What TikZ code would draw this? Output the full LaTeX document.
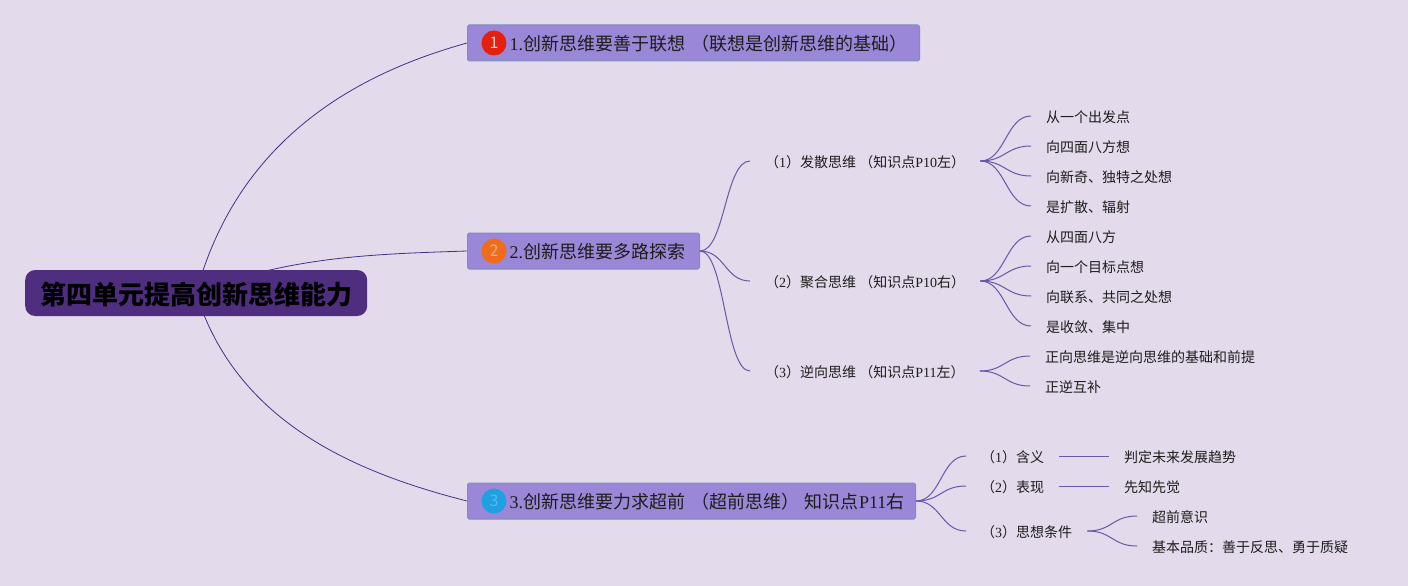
\documentclass[tikz,border=0pt]{standalone}
\usepackage{fontspec}
\usepackage{xcolor}
\usetikzlibrary{backgrounds}
\setmainfont{Noto Sans CJK SC}
\newfontfamily\latinfont{Liberation Serif}
\newcommand{\lat}[1]{{\latinfont #1}}
\definecolor{colorpage}  {RGB}{227,218,236}
\definecolor{colorroot}  {RGB}{79 ,46 ,128}
\definecolor{colorbranch}{RGB}{155,135,215}
\definecolor{colorborder}{RGB}{122,146,182}
\definecolor{colorline}  {RGB}{66 ,50 ,134}
\definecolor{colorsub}   {RGB}{105,88 ,168}
\definecolor{colortext}  {RGB}{29 ,29 ,27 }

\begin{document}
\begin{tikzpicture}[
    x=1pt, y=-1pt,
    base/.style={text=colortext,anchor=west,align=left},
    root/.style={base,fill=colorroot,text=black,rounded corners=10pt,inner sep=0pt,minimum height=46pt,
        text width=342pt,align=center,text height=26pt,text depth=2.6pt,font={\fontsize{26}{30}\selectfont\bfseries}},
    branch/.style={base,fill=colorbranch,draw=colorborder,line width=1pt,rounded corners=1.5pt,inner xsep=0pt,inner ysep=0pt,
        minimum height=36pt,text height=17pt,text depth=2pt,execute at begin node={\hspace*{42pt}},font={\fontsize{18}{22}\selectfont}},
    badge/.style={circle,inner sep=0pt,minimum size=25pt,font={\fontsize{16}{18}\selectfont}},
    topic/.style={base,inner xsep=15pt,inner ysep=2pt,text height=13.5pt,text depth=1.5pt,font={\fontsize{14}{17}\selectfont}},
    spine/.style={draw=colorline,line width=0.8pt},
    link/.style={draw=colorsub,line width=1pt,to path={.. controls +(25,0) and +(-25,0) .. (\tikztotarget)}},
]
    \useasboundingbox (0,0) rectangle (1408,586);

    % Root
    \node[root] at (25,293) (root) {第四单元提高创新思维能力};

    % Branches
    \node[branch,text width=452pt] at (467,43) (first) {\lat{1.}创新思维要善于联想 （联想是创新思维的基础）};
    \node[branch,text width=232pt] at (467,251) (second) {\lat{2.}创新思维要多路探索};
    \node[branch,text width=448pt] at (467,501) (third) {\lat{3.}创新思维要力求超前 （超前思维） 知识点\lat{P11}右};
    \node[badge,fill={rgb,255:red,228;green,32;blue,14},text={rgb,255:red,250;green,205;blue,195}] at (494,43) (mark1) {1};
    \node[badge,fill={rgb,255:red,238;green,108;blue,26},text={rgb,255:red,240;green,175;blue,140}] at (494,251) (mark2) {2};
    \node[badge,fill={rgb,255:red,30;green,160;blue,225},text={rgb,255:red,90;green,185;blue,235}] at (494,501) (mark3) {3};

    % Divergent
    \node[topic] at (750,161) (diverge) {（\lat{1}）发散思维 （知识点\lat{P10}左）};
    \node[topic] at (1031,116) (d1) {从一个出发点};
    \node[topic] at (1031,146) (d2) {向四面八方想};
    \node[topic] at (1031,176) (d3) {向新奇、独特之处想};
    \node[topic] at (1031,206) (d4) {是扩散、辐射};

    % Convergent
    \node[topic] at (750,281) (converge) {（\lat{2}）聚合思维 （知识点\lat{P10}右）};
    \node[topic] at (1031,236) (c1) {从四面八方};
    \node[topic] at (1031,266) (c2) {向一个目标点想};
    \node[topic] at (1031,296) (c3) {向联系、共同之处想};
    \node[topic] at (1031,326) (c4) {是收敛、集中};

    % Reverse
    \node[topic] at (750,371) (reverse) {（\lat{3}）逆向思维 （知识点\lat{P11}左）};
    \node[topic] at (1030,356) (r1) {正向思维是逆向思维的基础和前提};
    \node[topic] at (1030,386) (r2) {正逆互补};

    % Ahead
    \node[topic] at (966,456) (meaning) {（\lat{1}）含义};
    \node[topic] at (1109,456) (m1) {判定未来发展趋势};
    \node[topic] at (966,486) (show) {（\lat{2}）表现};
    \node[topic] at (1109,486) (s1) {先知先觉};
    \node[topic] at (966,531) (condition) {（\lat{3}）思想条件};
    \node[topic] at (1137,516) (k1) {超前意识};
    \node[topic] at (1137,546) (k2) {基本品质：善于反思、勇于质疑};

    \begin{scope}[on background layer]
        \fill[colorpage] (0,0) rectangle (1408,586);
        \draw[spine] (root.center) .. controls +(44,-163) and +(-97,27) .. (first.west);
        \draw[spine] (root.center) .. controls +(92,-37) and +(-90,3) .. (second.west);
        \draw[spine] (root.center) .. controls +(40,130) and +(-110,-28) .. (third.west);
    \end{scope}

    % Links
    \draw[link] (second.east) to (diverge.west);
    \draw[link] (second.east) to (converge.west);
    \draw[link] (second.east) to (reverse.west);
    \draw[link] (diverge.east) to (d1.west);
    \draw[link] (diverge.east) to (d2.west);
    \draw[link] (diverge.east) to (d3.west);
    \draw[link] (diverge.east) to (d4.west);
    \draw[link] (converge.east) to (c1.west);
    \draw[link] (converge.east) to (c2.west);
    \draw[link] (converge.east) to (c3.west);
    \draw[link] (converge.east) to (c4.west);
    \draw[link] (reverse.east) to (r1.west);
    \draw[link] (reverse.east) to (r2.west);
    \draw[link] (third.east) to (meaning.west);
    \draw[link] (third.east) to (show.west);
    \draw[link] (third.east) to (condition.west);
    \draw[link] (meaning.east) to (m1.west);
    \draw[link] (show.east) to (s1.west);
    \draw[link] (condition.east) to (k1.west);
    \draw[link] (condition.east) to (k2.west);

\end{tikzpicture}
\end{document}
